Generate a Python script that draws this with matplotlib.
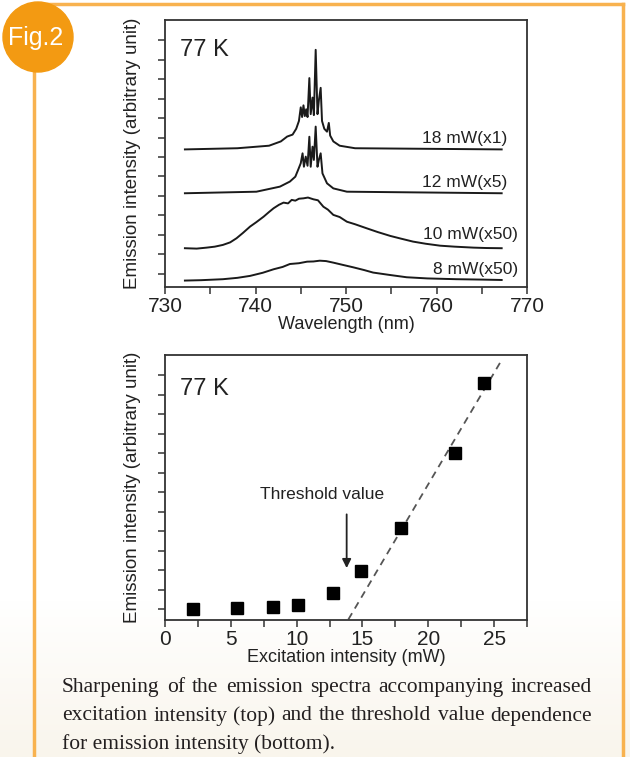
import numpy as np
import matplotlib
matplotlib.use('Agg')
import matplotlib.pyplot as plt
from matplotlib.patches import Circle

plt.rcParams['font.family'] = ['Liberation Sans', 'DejaVu Sans']

# emission spectra at 77 K (offset per curve)
wl_18 = [732.2, 738.0, 741.5, 742.8, 743.5, 744.1, 744.5, 744.8, 745.0, 745.15,
         745.3, 745.45, 745.6, 745.75, 745.95, 746.1, 746.3, 746.45, 746.65, 746.85,
         747.0, 747.2, 747.35, 747.6, 747.9, 748.1, 748.25, 748.6, 749.3, 751.0, 767.2]
int_18 = [6.39, 6.45, 6.58, 6.80, 7.05, 7.15, 7.45, 7.85, 8.55, 8.05,
          8.65, 8.10, 8.45, 8.05, 10.05, 8.20, 9.05, 8.15, 11.50, 8.20,
          8.90, 9.55, 7.85, 7.45, 7.30, 7.75, 7.10, 6.80, 6.58, 6.45, 6.39]

wl_12 = [732.2, 740.1, 742.7, 743.8, 744.4, 744.7, 745.0, 745.2, 745.35, 745.55,
         745.75, 745.95, 746.1, 746.3, 746.45, 746.65, 746.85, 747.0, 747.2, 747.4,
         747.9, 748.6, 750.1, 767.2]
int_12 = [4.14, 4.22, 4.48, 4.74, 4.99, 5.33, 5.68, 6.19, 5.50, 6.02,
          5.55, 7.04, 5.50, 6.53, 5.85, 7.56, 5.50, 5.85, 6.19, 5.16,
          4.65, 4.39, 4.22, 4.14]

wl_10 = [732.2, 733.5, 734.6, 735.5, 736.4, 737.2, 737.9, 738.6, 739.4, 740.1,
         740.9, 741.5, 742.0, 742.6, 743.1, 743.6, 744.0, 744.4, 744.8, 745.3,
         745.8, 746.4, 746.9, 747.5, 748.0, 748.6, 749.3, 750.1, 751.0, 752.3,
         753.5, 754.9, 756.0, 757.4, 758.8, 760.4, 762.0, 764.1, 765.5, 767.2]
int_10 = [1.32, 1.30, 1.35, 1.40, 1.49, 1.62, 1.83, 2.10, 2.43, 2.66,
          2.94, 3.18, 3.37, 3.55, 3.66, 3.62, 3.80, 3.76, 3.86, 3.88,
          3.92, 3.83, 3.78, 3.45, 3.30, 3.03, 2.92, 2.68, 2.55, 2.34,
          2.15, 1.95, 1.82, 1.66, 1.55, 1.45, 1.40, 1.35, 1.33, 1.32]

wl_8 = [732.2, 734.0, 736.4, 738.0, 739.4, 740.8, 742.0, 743.0, 743.8, 744.8,
        745.7, 746.4, 747.1, 747.8, 748.6, 749.6, 750.8, 752.0, 753.0, 754.8,
        756.7, 759.0, 762.2, 765.0, 767.2]
int_8 = [-0.34, -0.32, -0.27, -0.20, -0.10, 0.06, 0.24, 0.36, 0.51, 0.55,
         0.63, 0.64, 0.68, 0.66, 0.58, 0.47, 0.34, 0.20, 0.07, -0.05,
         -0.17, -0.23, -0.27, -0.29, -0.31]

curve_labels = ['18 mW(x1)', '12 mW(x5)', '10 mW(x50)', '8 mW(x50)']

# emission intensity vs excitation power
power_mw = [2.15, 5.5, 8.2, 10.1, 12.8, 14.9, 17.9, 22.0, 24.2]
emission = [0.0, 0.04, 0.09, 0.2, 0.8, 1.97, 4.17, 7.98, 11.6]
fit_x = [13.93, 25.6]
fit_y = [-0.53, 12.8]

caption = ["Sharpening of the emission spectra accompanying increased",
           "excitation intensity (top) and the threshold value dependence",
           "for emission intensity (bottom)."]

W, H = 630, 757
fig = plt.figure(figsize=(W / 100, H / 100), dpi=100)
fig.patch.set_facecolor('white')

# page decoration in pixel coordinates
bg = fig.add_axes([0, 0, 1, 1])
bg.axis('off')
grad = np.linspace(0, 1, 100)[:, None]
cmap = matplotlib.colors.LinearSegmentedColormap.from_list('bg', ['#ffffff', '#f9f5ec'])
bg.imshow(grad, extent=[0, W, H, 600], cmap=cmap, aspect='auto', zorder=0)
bg.set_xlim(0, W)
bg.set_ylim(H, 0)
orange = '#f8b24f'
bg.plot([40, 623], [4, 4], color=orange, lw=2.5, zorder=1)
bg.plot([623, 623], [4, H], color=orange, lw=2.5, zorder=1)
bg.plot([34, 34], [40, H], color=orange, lw=2.5, zorder=1)
bg.add_patch(Circle((38, 37), 35, color='#f39a12', zorder=2))
bg.text(36, 38, 'Fig.2', color='white', fontsize=18, ha='center', va='center', zorder=3)

tc = '#222222'

# top panel: spectra
ax1 = fig.add_axes([165 / W, 1 - 287 / H, 362 / W, 267 / H])
for wl, it in [(wl_18, int_18), (wl_12, int_12), (wl_10, int_10), (wl_8, int_8)]:
    ax1.plot(wl, it, color='#1a1a1a', lw=1.4)
ax1.set_xlim(730, 770)
ax1.set_ylim(-0.67, 13.03)
ax1.set_xticks([730, 740, 750, 760, 770])
ax1.set_xticks([735, 745, 755, 765], minor=True)
ax1.set_yticks(range(13))
ax1.tick_params(axis='both', which='both', direction='out', length=5, width=1.1,
                colors='#333333', labelcolor=tc, labelsize=15, labelleft=False, pad=2)
ax1.set_xlabel('Wavelength (nm)', fontsize=13, color=tc, va='center')
ax1.xaxis.set_label_coords(0.5, -0.142)
ax1.set_ylabel('Emission intensity (arbitrary unit)', fontsize=13.5, color=tc, va='center')
ax1.yaxis.set_label_coords(-0.091, 0.5)
ax1.text(731.7, 11.5, '77 K', fontsize=17, color=tc, va='center')
for lab, lx, ly in zip(curve_labels, [767.8, 767.8, 769.0, 769.0], [6.97, 4.68, 2.0, 0.24]):
    ax1.text(lx, ly, lab, fontsize=12.5, color=tc, ha='right', va='center')

# bottom panel: threshold behaviour
ax2 = fig.add_axes([165 / W, 1 - 620 / H, 362 / W, 265 / H])
ax2.plot(fit_x, fit_y, color='#555555', lw=1.3, ls=(0, (4, 3)))
ax2.plot(power_mw, emission, 's', color='black', ms=9)
ax2.annotate('', xy=(13.8, 1.96), xytext=(13.8, 5.0),
             arrowprops=dict(arrowstyle='-|>', color=tc, lw=1.3, mutation_scale=13))
ax2.text(11.96, 5.9, 'Threshold value', fontsize=12.5, color=tc, ha='center', va='center')
ax2.set_xlim(0, 27.5)
ax2.set_ylim(-0.56, 13.03)
ax2.set_xticks([0, 5, 10, 15, 20, 25])
ax2.set_xticks([2.5, 7.5, 12.5, 17.5, 22.5, 27.5], minor=True)
ax2.set_yticks(range(13))
ax2.tick_params(axis='both', which='both', direction='out', length=5, width=1.1,
                colors='#333333', labelcolor=tc, labelsize=15, labelleft=False, pad=2)
ax2.set_xlabel('Excitation intensity (mW)', fontsize=13, color=tc, va='center')
ax2.xaxis.set_label_coords(0.5, -0.142)
ax2.set_ylabel('Emission intensity (arbitrary unit)', fontsize=13.5, color=tc, va='center')
ax2.yaxis.set_label_coords(-0.091, 0.5)
ax2.text(1.14, 11.3, '77 K', fontsize=17, color=tc, va='center')

for ax in (ax1, ax2):
    for s in ax.spines.values():
        s.set_linewidth(1.3)
        s.set_color('#333333')

# justified caption
renderer = fig.canvas.get_renderer()
x0, x1 = 62, 592
for i, (line, yb) in enumerate(zip(caption, [692, 720.5, 749])):
    words = line.split(' ')
    kw = dict(fontsize=15.5, color='#231f20', family='Liberation Serif', va='baseline')
    if i == len(caption) - 1:
        bg.text(x0, yb, line, **kw)
        continue
    arts = [bg.text(0, yb, w, **kw) for w in words]
    widths = [a.get_window_extent(renderer).width for a in arts]
    gap = (x1 - x0 - sum(widths)) / (len(words) - 1)
    x = x0
    for a, w in zip(arts, widths):
        a.set_x(x)
        x += w + gap

fig.savefig('out.png', dpi=100)
